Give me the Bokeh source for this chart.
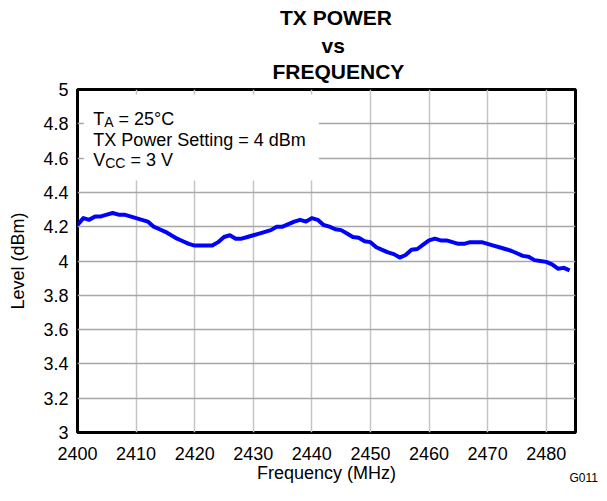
from bokeh.plotting import figure
from bokeh.models import Label, BoxAnnotation, FixedTicker, Range1d, Title
from bokeh.embed import file_html
from bokeh.resources import INLINE

# ---- data ----
freq_mhz = [2400, 2401, 2402, 2403, 2404, 2405, 2406, 2407, 2408, 2409,
            2410, 2411, 2412, 2413, 2414, 2415, 2416, 2417, 2418, 2419,
            2420, 2421, 2422, 2423, 2424, 2425, 2426, 2427, 2428, 2429,
            2430, 2431, 2432, 2433, 2434, 2435, 2436, 2437, 2438, 2439,
            2440, 2441, 2442, 2443, 2444, 2445, 2446, 2447, 2448, 2449,
            2450, 2451, 2452, 2453, 2454, 2455, 2456, 2457, 2458, 2459,
            2460, 2461, 2462, 2463, 2464, 2465, 2466, 2467, 2468, 2469,
            2470, 2471, 2472, 2473, 2474, 2475, 2476, 2477, 2478, 2479,
            2480, 2481, 2482, 2483, 2484]
level_dbm = [4.21, 4.25, 4.24, 4.26, 4.26, 4.27, 4.28, 4.27, 4.27, 4.26,
             4.25, 4.24, 4.23, 4.20, 4.185, 4.17, 4.15, 4.13, 4.115, 4.10,
             4.09, 4.09, 4.09, 4.09, 4.11, 4.14, 4.15, 4.13, 4.13, 4.14,
             4.15, 4.16, 4.17, 4.18, 4.20, 4.20, 4.215, 4.23, 4.24, 4.23,
             4.25, 4.24, 4.21, 4.20, 4.185, 4.18, 4.16, 4.14, 4.135, 4.115,
             4.11, 4.08, 4.065, 4.05, 4.04, 4.02, 4.035, 4.065, 4.07, 4.095,
             4.12, 4.13, 4.12, 4.12, 4.11, 4.10, 4.10, 4.11, 4.11, 4.11,
             4.10, 4.09, 4.08, 4.07, 4.06, 4.045, 4.03, 4.025, 4.005, 4.00,
             3.995, 3.98, 3.955, 3.96, 3.945]

x_ticks = [2400, 2410, 2420, 2430, 2440, 2450, 2460, 2470, 2480]
y_ticks = [3, 3.2, 3.4, 3.6, 3.8, 4, 4.2, 4.4, 4.6, 4.8, 5]
y_tick_labels = ["3", "3.2", "3.4", "3.6", "3.8", "4", "4.2", "4.4", "4.6", "4.8", "5"]

title_lines = ["TX POWER", "vs", "FREQUENCY"]
x_label = "Frequency (MHz)"
y_label = "Level (dBm)"
figure_id = "G011"

FONT = "Liberation Sans"
X0, X1 = 2400, 2485
Y0, Y1 = 3, 5

p = figure(width=599, height=485, output_backend="svg", toolbar_location=None,
           x_range=Range1d(X0, X1), y_range=Range1d(Y0, Y1),
           min_border_left=77, min_border_right=24, min_border_top=89, min_border_bottom=53)
p.background_fill_color = "white"
p.border_fill_color = "white"
p.outline_line_color = "black"
p.outline_line_width = 3

# axes
for ax in (p.xaxis, p.yaxis):
    ax.axis_line_color = None
    ax.major_tick_line_color = None
    ax.minor_tick_line_color = None
    ax.major_tick_out = 0
    ax.major_tick_in = 0
    ax.major_label_text_font = FONT
    ax.major_label_text_font_size = "18px"
    ax.major_label_text_color = "black"
    ax.axis_label_text_font = FONT
    ax.axis_label_text_font_size = "18px"
    ax.axis_label_text_font_style = "normal"
    ax.axis_label_text_color = "black"

p.xaxis.ticker = FixedTicker(ticks=x_ticks)
p.yaxis.ticker = FixedTicker(ticks=y_ticks)
p.yaxis.major_label_overrides = {v: s for v, s in zip(y_ticks, y_tick_labels)}
p.xaxis.axis_label = x_label
p.yaxis.axis_label = y_label
p.xaxis.major_label_standoff = 14
p.xaxis.axis_label_standoff = 0
p.yaxis.major_label_standoff = 9
p.yaxis.axis_label_standoff = 12

p.xgrid.ticker = FixedTicker(ticks=x_ticks)
p.ygrid.ticker = FixedTicker(ticks=y_ticks)
p.xgrid.grid_line_color = "#c4c4c4"
p.xgrid.grid_line_width = 1.5
p.ygrid.grid_line_color = "#a8a8a8"
p.ygrid.grid_line_width = 1.5

# curve
p.line(freq_mhz, level_dbm, line_color="#0000ff", line_width=4, line_join="round")

# white box behind conditions text
p.add_layout(BoxAnnotation(left=2401.08, right=2441.2, top=4.971, bottom=4.47,
                           fill_color="white", fill_alpha=1.0, line_color=None))

# conditions text with subscripts
def lab(text, xo, yo, size="18px"):
    p.add_layout(Label(x=X0, y=Y1, x_offset=xo, y_offset=yo, text=text,
                       text_font=FONT, text_font_size=size, text_color="black",
                       text_baseline="alphabetic", text_align="left"))

L = 15.7
SP = 5.0
lab("T", L, -29.0)
lab("A", L + 11.0, -32.0, size="14px")
lab("= 25°C", L + 11.0 + 9.3 + SP, -29.0)
lab("TX Power Setting = 4 dBm", L, -50.0)
lab("V", L, -70.6)
lab("CC", L + 12.0, -73.6, size="14px")
lab("= 3 V", L + 12.0 + 20.2 + SP, -70.6)

# title lines (closest to the frame first)
title_specs = [("FREQUENCY", 195, 13, "bottom"),
               ("vs", 244, -10, "bottom"),
               ("TX POWER", 202.5, 9.6, "top")]
for txt, off, so, va in title_specs:
    p.add_layout(Title(text=txt, align="left", offset=off, standoff=so, vertical_align=va,
                       text_font=FONT, text_font_size="21px", text_font_style="bold",
                       text_color="black"), "above")

# figure id
p.add_layout(Title(text=figure_id, align="left", offset=492, standoff=-30,
                   vertical_align="top",
                   text_font=FONT, text_font_size="12px", text_font_style="normal",
                   text_color="black"), "below")

open("out.html", "w").write(file_html(p, INLINE))
